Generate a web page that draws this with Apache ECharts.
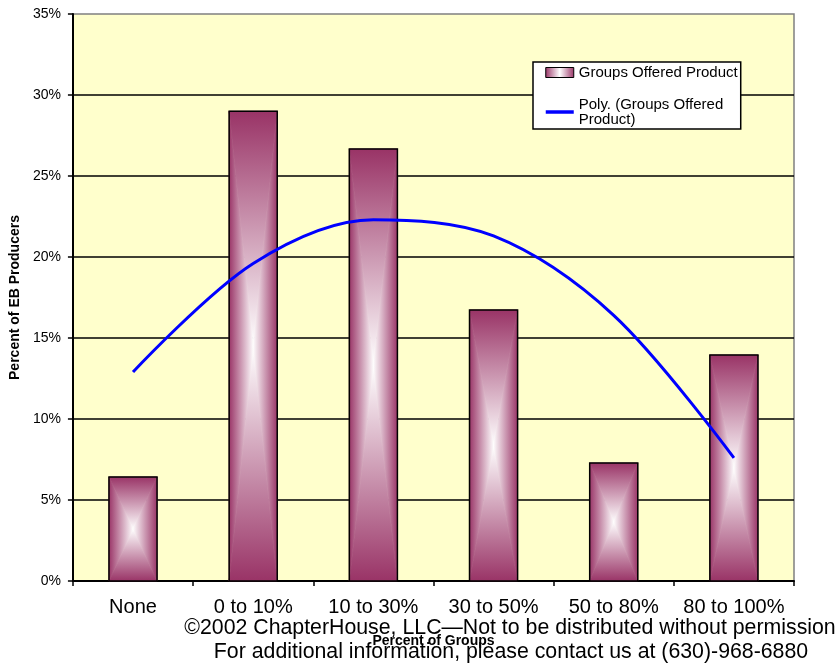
<!DOCTYPE html>
<html>
<head>
<meta charset="utf-8">
<script src="https://cdn.jsdelivr.net/npm/echarts@6/dist/echarts.min.js"></script>
<style>
  html, body { margin: 0; padding: 0; background: #fff; }
  #chart { width: 838px; height: 664px; }
</style>
</head>
<body>
<div id="chart"></div>
<script>
// categories on the x axis
const categories = ["None", "0 to 10%", "10 to 30%", "30 to 50%", "50 to 80%", "80 to 100%"];
// share of producers per group (percent)
const groupsOffered = [6.42, 29.0, 26.67, 16.73, 7.28, 13.95];
// polynomial trendline at each category
const polyTrend = [12.9, 19.6, 22.3, 21.3, 16.4, 7.6];
// y axis ticks
const yMin = 0, yMax = 35, yStep = 5;

const barName = "Groups Offered Product";
const trendName = "Poly. (Groups Offered Product)";
const FONT = "'Liberation Sans', Arial, sans-serif";
const EDGE = "#993366";

function grad(x, y, x2, y2) {
  return {
    type: "linear", x: x, y: y, x2: x2, y2: y2,
    colorStops: [{ offset: 0, color: EDGE }, { offset: 1, color: "#ffffff" }]
  };
}

// rectangular "from center" gradient: four triangles, each with its own linear gradient
function renderBar(params, api) {
  const idx = api.value(0);
  const top = api.coord([idx, api.value(1)]);
  const base = api.coord([idx, 0]);
  const w = api.size([1, 0])[0] * 0.4;
  const l = top[0] - w / 2, r = top[0] + w / 2;
  const t = top[1], b = base[1];
  const cx = top[0], cy = (t + b) / 2;
  const tri = function (pts, g) {
    return { type: "polygon", shape: { points: pts }, style: { fill: g, stroke: g, lineWidth: 0.8 } };
  };
  return {
    type: "group",
    children: [
      tri([[l, t], [r, t], [cx, cy]], grad(0, 0, 0, 1)),
      tri([[l, b], [r, b], [cx, cy]], grad(0, 1, 0, 0)),
      tri([[l, t], [l, b], [cx, cy]], grad(0, 0, 1, 0)),
      tri([[r, t], [r, b], [cx, cy]], grad(1, 0, 0, 0)),
      { type: "rect", shape: { x: l, y: t, width: w, height: b - t }, style: { fill: "none", stroke: "#000", lineWidth: 1.5 } }
    ]
  };
}

const chart = echarts.init(document.getElementById("chart"));

const option = {
  backgroundColor: "#ffffff",
  animation: false,
  grid: {
    left: 70, right: 44, top: 14, bottom: 83,
    show: true,
    backgroundColor: "#FFFFCC",
    borderColor: "#808080",
    borderWidth: 1.5
  },
  legend: {
    orient: "vertical",
    left: 533, top: 62,
    backgroundColor: "#ffffff",
    borderColor: "#000",
    borderWidth: 1.5,
    borderRadius: 0,
    padding: [3, 3, 2, 11],
    itemGap: 17,
    itemWidth: 28,
    itemHeight: 10,
    textStyle: { fontFamily: FONT, fontSize: 15, color: "#000", lineHeight: 15 },
    formatter: function (name) {
      return name === trendName ? "Poly. (Groups Offered\nProduct)" : name;
    },
    data: [
      {
        name: barName,
        icon: "rect",
        itemStyle: {
          color: { type: "linear", x: 0, y: 0, x2: 1, y2: 0,
            colorStops: [{ offset: 0, color: EDGE }, { offset: 0.5, color: "#fff" }, { offset: 1, color: EDGE }] },
          borderColor: "#000", borderWidth: 1
        }
      },
      // transparent item colour hides the marker circle, leaving only the blue line
      {
        name: trendName,
        itemStyle: { color: "rgba(0,0,0,0)", borderWidth: 0 },
        lineStyle: { color: "#0000FF", width: 3.5 }
      }
    ]
  },
  xAxis: {
    type: "category",
    data: categories,
    boundaryGap: true,
    name: "Percent of Groups",
    nameLocation: "middle",
    nameGap: 53,
    nameTextStyle: { fontFamily: FONT, fontSize: 14, fontWeight: "bold", color: "#000" },
    axisLine: { lineStyle: { color: "#000", width: 2 } },
    axisTick: { show: true, inside: false, length: 5, lineStyle: { color: "#000", width: 1.5 } },
    axisLabel: { fontFamily: FONT, fontSize: 20, color: "#000", margin: 16, interval: 0 },
    splitLine: { show: false }
  },
  yAxis: {
    type: "value",
    min: yMin, max: yMax, interval: yStep,
    name: "Percent of EB Producers",
    nameLocation: "middle",
    nameRotate: 90,
    nameGap: 47,
    nameTextStyle: { fontFamily: FONT, fontSize: 14, fontWeight: "bold", color: "#000" },
    axisLine: { show: true, lineStyle: { color: "#000", width: 2 } },
    axisTick: { show: true, inside: false, length: 5, lineStyle: { color: "#000", width: 1.5 } },
    axisLabel: { fontFamily: FONT, fontSize: 14, color: "#000", margin: 12, formatter: "{value}%" },
    splitLine: { show: true, showMaxLine: false, lineStyle: { color: "#000", width: 1.5 } }
  },
  series: [
    {
      name: barName,
      type: "custom",
      renderItem: renderBar,
      encode: { x: 0, y: 1 },
      itemStyle: { color: EDGE },
      data: groupsOffered.map(function (v, i) { return [i, v]; }),
      z: 2
    },
    {
      name: trendName,
      type: "line",
      data: polyTrend,
      smooth: 0.33,
      symbol: "none",
      showSymbol: false,
      lineStyle: { color: "#0000FF", width: 3 },
      itemStyle: { color: "#0000FF" },
      z: 3
    }
  ],
  graphic: [
    {
      type: "text", x: 510, y: 628.5,
      style: { text: "\u00a92002 ChapterHouse, LLC\u2014Not to be distributed without permission",
        font: "21.3px " + FONT, fill: "#000", align: "center", verticalAlign: "middle" }
    },
    {
      type: "text", x: 511, y: 652.5,
      style: { text: "For additional information, please contact us at (630)-968-6880",
        font: "21.3px " + FONT, fill: "#000", align: "center", verticalAlign: "middle" }
    }
  ]
};

chart.setOption(option);
</script>
</body>
</html>
